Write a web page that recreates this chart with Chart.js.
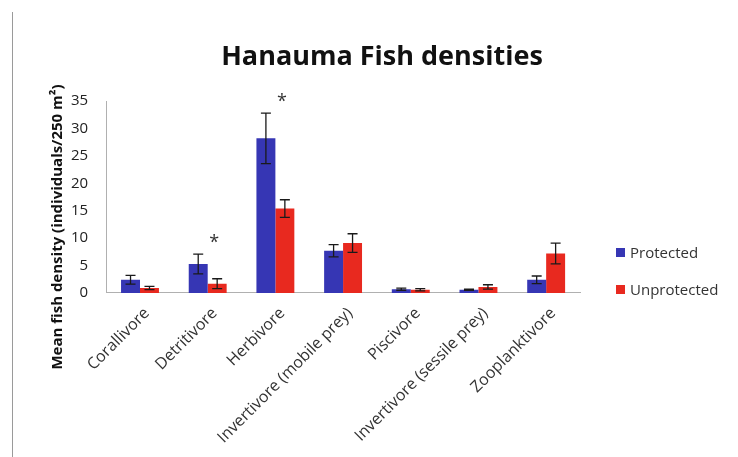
<!DOCTYPE html>
<html>
<head>
<meta charset="utf-8">
<script src="https://cdn.jsdelivr.net/npm/chart.js@4.4.1/dist/chart.umd.min.js"></script>
<style>
  body { margin: 0; background: #fff; }
  #wrap { position: relative; width: 738px; height: 457px; }
  #frame { position: absolute; left: 12px; top: 12px; width: 1px; height: 445px; background: #9a9a9a; }
  #title { position: absolute; left: 182px; width: 400px; top: 36px; text-align: center; font-family: 'Open Sans', 'DejaVu Sans', sans-serif; font-size: 27px; font-weight: bold; color: #111; }
  #legend { position: absolute; left: 616px; top: 242px; font-family: 'Open Sans', 'DejaVu Sans', sans-serif; font-size: 15px; color: #333; }
  #legend div { height: 37px; line-height: 20px; }
  #legend span { display: inline-block; width: 9px; height: 9px; margin-right: 5px; vertical-align: 1px; }
</style>
</head>
<body>
<div id="wrap">
  <div id="frame"></div>
  <canvas id="myChart" width="738" height="457"></canvas>
  <div id="title">Hanauma Fish densities</div>
  <div id="legend"></div>
</div>
<script>
//Data
const categories = ["Corallivore", "Detritivore", "Herbivore", "Invertivore (mobile prey)", "Piscivore", "Invertivore (sessile prey)", "Zooplanktivore"];
const protectedMeans = [2.4, 5.3, 28.2, 7.7, 0.7, 0.6, 2.4];
const protectedErr = [0.8, 1.8, 4.6, 1.1, 0.2, 0.1, 0.7];
const unprotectedMeans = [0.9, 1.7, 15.4, 9.1, 0.6, 1.1, 7.2];
const unprotectedErr = [0.3, 0.9, 1.6, 1.7, 0.2, 0.4, 1.9];
const significant = [false, true, true, false, false, false, false];
const yTicks = [0, 5, 10, 15, 20, 25, 30, 35];
const yTitle = "Mean fish density (individuals/250 m²)";

const font = "'Open Sans', 'DejaVu Sans', sans-serif";
const ctx = document.getElementById("myChart").getContext("2d");
const legendBox = document.getElementById("legend");

//Error bars, asterisks, y axis title
const extras = {
  id: "extras",
  afterDatasetsDraw(chart) {
    const c = chart.ctx;
    const y = chart.scales.y;
    const errs = [protectedErr, unprotectedErr];
    c.save();
    c.strokeStyle = "#1a1a1a";
    c.lineWidth = 1.3;
    chart.data.datasets.forEach((ds, di) => {
      const meta = chart.getDatasetMeta(di);
      meta.data.forEach((bar, i) => {
        const v = ds.data[i];
        const e = errs[di][i];
        const top = y.getPixelForValue(v + e);
        const bot = y.getPixelForValue(Math.max(v - e, 0));
        c.beginPath();
        c.moveTo(bar.x, top);
        c.lineTo(bar.x, bot);
        c.moveTo(bar.x - 5, top);
        c.lineTo(bar.x + 5, top);
        c.moveTo(bar.x - 5, bot);
        c.lineTo(bar.x + 5, bot);
        c.stroke();
      });
    });
    // asterisks over the protected bars
    const meta0 = chart.getDatasetMeta(0);
    c.fillStyle = "#333";
    c.font = "18px " + font;
    c.textAlign = "center";
    c.textBaseline = "middle";
    significant.forEach((s, i) => {
      if (!s) return;
      const bar = meta0.data[i];
      const top = y.getPixelForValue(protectedMeans[i] + protectedErr[i]);
      c.fillText("*", bar.x + 16, top - 11);
    });
    // y axis title
    c.translate(58, 227);
    c.rotate(-Math.PI / 2);
    c.fillStyle = "#111";
    c.font = "bold 15px " + font;
    c.fillText(yTitle, 0, 0);
    c.restore();
  },
};

const myChart = new Chart(ctx, {
  type: "bar",
  data: {
    labels: categories,
    datasets: [
      {
        label: "Protected",
        data: protectedMeans,
        backgroundColor: "#3636b4",
        categoryPercentage: 0.56,
        barPercentage: 1.0,
      },
      {
        label: "Unprotected",
        data: unprotectedMeans,
        backgroundColor: "#e8291f",
        categoryPercentage: 0.56,
        barPercentage: 1.0,
      },
    ],
  },
  options: {
    responsive: false,
    animation: false,
    layout: { padding: { left: 61, right: 158, top: 101, bottom: 7 } },
    plugins: {
      legend: { display: false },
      tooltip: { enabled: false },
    },
    scales: {
      x: {
        grid: { display: false },
        border: { color: "#b0b0b0" },
        ticks: {
          maxRotation: 45,
          minRotation: 45,
          labelOffset: 7,
          color: "#333",
          font: { family: font, size: 16 },
        },
      },
      y: {
        min: 0,
        max: 35,
        afterBuildTicks: (axis) => { axis.ticks = yTicks.map((v) => ({ value: v })); },
        grid: { display: false },
        border: { color: "#b0b0b0" },
        ticks: { color: "#222", font: { family: font, size: 15 }, padding: 10 },
      },
    },
  },
  plugins: [extras],
});

//HTML legend from the datasets
myChart.data.datasets.forEach((ds) => {
  legendBox.innerHTML += `<div><span style="background:${ds.backgroundColor}"></span>${ds.label}</div>`;
});
</script>
</body>
</html>
